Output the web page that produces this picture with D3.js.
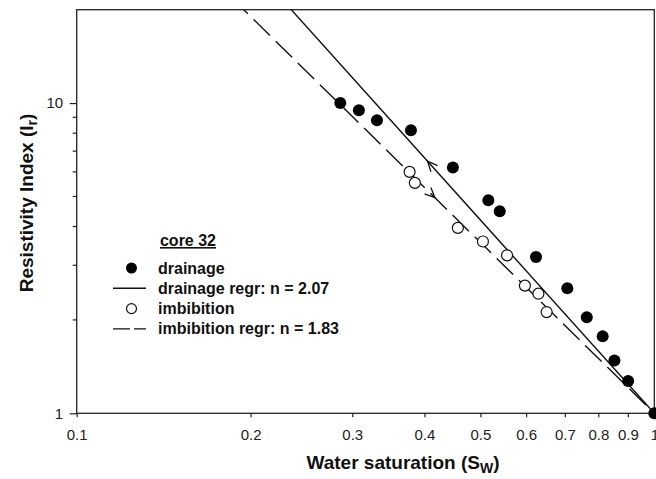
<!DOCTYPE html>
<html>
<head>
<meta charset="utf-8">
<script src="https://cdn.jsdelivr.net/npm/d3@7"></script>
<style>
  body { margin: 0; background: #fff; }
  svg { font-family: "Liberation Sans", Arial, sans-serif; }
  .tick-label { font-size: 15px; fill: #222; }
  .title { font-size: 19px; font-weight: bold; fill: #111; }
  .legend { font-size: 16px; font-weight: bold; fill: #111; }
</style>
</head>
<body>
<div id="chart"></div>
<script>
// measured points (water saturation, resistivity index)
const drainageSw = [0.286, 0.308, 0.331, 0.379, 0.448, 0.516, 0.540, 0.624, 0.707, 0.764, 0.814, 0.853, 0.901, 1.0];
const drainageIr = [10.0, 9.49, 8.81, 8.18, 6.20, 4.86, 4.48, 3.19, 2.53, 2.04, 1.77, 1.48, 1.27, 1.0];
const imbibitionSw = [0.377, 0.385, 0.457, 0.505, 0.556, 0.597, 0.630, 0.651];
const imbibitionIr = [6.00, 5.53, 3.96, 3.58, 3.23, 2.58, 2.43, 2.12];

// Archie saturation exponents
const nDrainage = 2.07;
const nImbibition = 1.83;
// where the direction arrows sit on each regression line
const arrowSw = [0.405, 0.417];

const xTicks = [0.1, 0.2, 0.3, 0.4, 0.5, 0.6, 0.7, 0.8, 0.9, 1];
const xTickLabels = ['0.1', '0.2', '0.3', '0.4', '0.5', '0.6', '0.7', '0.8', '0.9', '1'];
const yMajor = [1, 10];
const yMinor = [2, 3, 4, 5, 6, 7, 8, 9];

const width = 656, height = 479;
const margin = {top: 9.7, right: 1.7, bottom: 65.7, left: 76.7};

const svg = d3.select('#chart').append('svg')
  .attr('width', width)
  .attr('height', height);

const x = d3.scaleLog().domain([0.1, 1]).range([margin.left, width - margin.right]);
const y = d3.scaleLog().domain([1, 20]).range([height - margin.bottom, margin.top]);

// frame
svg.append('rect')
  .attr('x', x(0.1)).attr('y', y(20))
  .attr('width', x(1) - x(0.1)).attr('height', y(1) - y(20))
  .attr('fill', 'none').attr('stroke', '#222').attr('stroke-width', 1.3);

// x axis
const xAxis = svg.append('g')
  .attr('transform', `translate(0,${y(1)})`)
  .call(d3.axisBottom(x).tickValues(xTicks).tickFormat((d, i) => xTickLabels[i]).tickSize(4).tickPadding(12.5));
xAxis.select('.domain').remove();
xAxis.selectAll('line').attr('stroke', '#222').attr('stroke-width', 1.2);
xAxis.selectAll('text').attr('class', 'tick-label').attr('font-family', null).attr('font-size', null);

// y axis
const yAxis = svg.append('g')
  .attr('transform', `translate(${x(0.1)},0)`)
  .call(d3.axisLeft(y).tickValues(yMajor).tickFormat(d3.format('d')).tickSize(7).tickPadding(6.5));
yAxis.select('.domain').remove();
yAxis.selectAll('line').attr('stroke', '#222').attr('stroke-width', 1.2);
yAxis.selectAll('text').attr('class', 'tick-label').attr('font-family', null).attr('font-size', null);

svg.append('g')
  .selectAll('line')
  .data(yMinor)
  .join('line')
    .attr('x1', x(0.1) - 4).attr('x2', x(0.1))
    .attr('y1', d => y(d)).attr('y2', d => y(d))
    .attr('stroke', '#222').attr('stroke-width', 1.2);

// regression lines, clipped to plot
svg.append('clipPath').attr('id', 'plot-clip')
  .append('rect')
    .attr('x', x(0.1)).attr('y', y(20))
    .attr('width', x(1) - x(0.1)).attr('height', y(1) - y(20));

const regr = n => [0.1, 1].map(s => [s, Math.pow(s, -n)]);
const line = d3.line().x(d => x(d[0])).y(d => y(d[1]));

const lines = svg.append('g').attr('clip-path', 'url(#plot-clip)');
lines.append('path')
  .attr('d', line(regr(nDrainage)))
  .attr('fill', 'none').attr('stroke', '#111').attr('stroke-width', 1.4);
lines.append('path')
  .attr('d', line(regr(nImbibition)))
  .attr('fill', 'none').attr('stroke', '#111').attr('stroke-width', 1.4)
  .attr('stroke-dasharray', '23,8');

// direction arrows: drainage up (toward lower Sw), imbibition down
const arrowDefs = [
  {sw: arrowSw[0], n: nDrainage, dir: -1},
  {sw: arrowSw[1], n: nImbibition, dir: 1}
];
svg.append('g')
  .selectAll('path')
  .data(arrowDefs)
  .join('path')
    .attr('d', d => {
      const px = x(d.sw), py = y(Math.pow(d.sw, -d.n));
      const s2 = d.sw * 1.05;
      const ang = Math.atan2(y(Math.pow(s2, -d.n)) - py, x(s2) - px) + (d.dir < 0 ? Math.PI : 0);
      const L = 11, a = 0.42;
      const p1 = [px - L * Math.cos(ang - a), py - L * Math.sin(ang - a)];
      const p2 = [px - L * Math.cos(ang + a), py - L * Math.sin(ang + a)];
      return `M${p1}L${px},${py}L${p2}`;
    })
    .attr('fill', 'none').attr('stroke', '#111').attr('stroke-width', 1.3);

// points
const drainage = drainageSw.map((s, i) => [s, drainageIr[i]]);
const imbibition = imbibitionSw.map((s, i) => [s, imbibitionIr[i]]);

svg.append('g')
  .selectAll('circle')
  .data(imbibition)
  .join('circle')
    .attr('cx', d => x(d[0])).attr('cy', d => y(d[1])).attr('r', 5.5)
    .attr('fill', '#fff').attr('stroke', '#111').attr('stroke-width', 1.2);

svg.append('g')
  .selectAll('circle')
  .data(drainage)
  .join('circle')
    .attr('cx', d => x(d[0])).attr('cy', d => y(d[1])).attr('r', 6)
    .attr('fill', '#000');

// axis titles
const xt = svg.append('text')
  .attr('class', 'title')
  .attr('x', 403).attr('y', 469)
  .attr('text-anchor', 'middle');
xt.append('tspan').text('Water saturation (S');
xt.append('tspan').attr('font-size', 14).attr('dy', 4).text('W');
xt.append('tspan').attr('dy', -4).text(')');

const yt = svg.append('text')
  .attr('class', 'title')
  .attr('transform', 'translate(33,203) rotate(-90)')
  .attr('text-anchor', 'middle');
yt.append('tspan').text('Resistivity Index (I');
yt.append('tspan').attr('font-size', 14).attr('dy', 4).text('r');
yt.append('tspan').attr('dy', -4).text(')');

// legend
const legend = svg.append('g');
legend.append('text')
  .attr('class', 'legend')
  .attr('x', 188).attr('y', 246)
  .attr('text-anchor', 'middle')
  .attr('text-decoration', 'underline')
  .text('core 32');

const legendItems = [
  {label: 'drainage', type: 'filled'},
  {label: `drainage regr: n = ${nDrainage.toFixed(2)}`, type: 'solid'},
  {label: 'imbibition', type: 'open'},
  {label: `imbibition regr: n = ${nImbibition.toFixed(2)}`, type: 'dashed'}
];
const rows = legend.selectAll('g.row')
  .data(legendItems)
  .join('g')
    .attr('class', 'row')
    .attr('transform', (d, i) => `translate(0,${268 + i * 20.3})`);

rows.filter(d => d.type === 'filled')
  .append('circle').attr('cx', 131.5).attr('cy', 0).attr('r', 5.5).attr('fill', '#000');
rows.filter(d => d.type === 'open')
  .append('circle').attr('cx', 131.5).attr('cy', 0).attr('r', 5)
  .attr('fill', '#fff').attr('stroke', '#111').attr('stroke-width', 1.2);
rows.filter(d => d.type === 'solid')
  .append('line').attr('x1', 113).attr('x2', 146).attr('y1', 0).attr('y2', 0)
  .attr('stroke', '#111').attr('stroke-width', 1.4);
rows.filter(d => d.type === 'dashed')
  .append('line').attr('x1', 113).attr('x2', 146).attr('y1', 0).attr('y2', 0)
  .attr('stroke', '#111').attr('stroke-width', 1.4).attr('stroke-dasharray', '17,4');

rows.append('text')
  .attr('class', 'legend')
  .attr('x', 158).attr('y', 5.5)
  .text(d => d.label);
</script>
</body>
</html>
